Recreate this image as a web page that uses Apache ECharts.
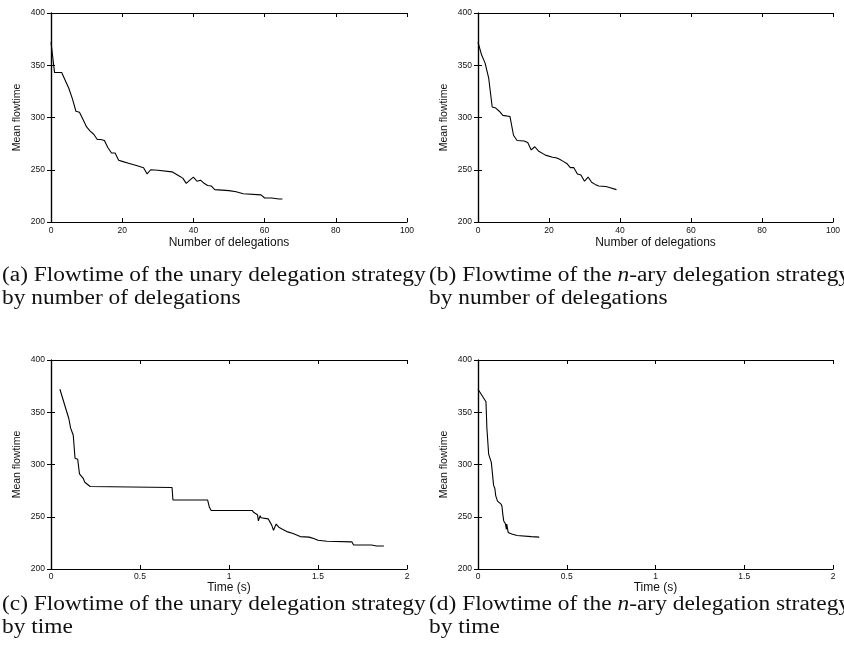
<!DOCTYPE html>
<html>
<head>
<meta charset="utf-8">
<script src="https://cdn.jsdelivr.net/npm/echarts@6/dist/echarts.min.js"></script>
<style>
html,body{margin:0;padding:0;background:#fff;}
#chart{width:844px;height:667px;}
</style>
</head>
<body>
<div id="chart"></div>
<script>
// ---- data ----
const unaryDelegX = [0,1,3,5,6,7,8,9,10,11,12,13,14,15,16,17,18,19,20,22,24,26,27,28,30,34,36,37,38,39,40,41,42,43,44,45,46,50,52,54,59,60,62,64,65];
const unaryDelegY = [372,343,343,328,318,306,305,298,291,287,284,279,279,278,271,266,266,259,258,256,254,252,246,250,249.5,248,244,242,237,240,243,239,240,237,235,234.5,231,230,229,227,226,223,223,222,222];

const naryDelegX = [0,1,2,3,4,5,6,7,9,10,11,13,14,15,16,17,19,21,22,23,24,25,26,27,28,29,30,31,32,33,34,36,37,39];
const naryDelegY = [372,360,352,338,310,309,306,302,301,283,278,277.5,276,269,272,268,264,262,261.5,260,258,256,252,252,246,245,239,243,238,236,234.5,234,233,231];

const unaryTimeX = [0.05,0.1,0.105,0.11,0.125,0.135,0.15,0.16,0.18,0.19,0.22,0.68,0.685,0.88,0.89,0.9,1.13,1.14,1.16,1.165,1.175,1.18,1.22,1.24,1.25,1.265,1.28,1.3,1.33,1.36,1.4,1.45,1.48,1.5,1.55,1.69,1.7,1.8,1.83,1.87];
const unaryTimeY = [372,344,343,335,328,306,305,291,287,283,279,278,266,266,259,256,256,254,252,246,251,249,248,242,237,243,240,238,235.5,234,231,230.5,229,227.5,226.5,226,223,223,222,222];

const naryTimeX = [0,0.045,0.05,0.06,0.065,0.075,0.083,0.088,0.095,0.1,0.105,0.11,0.13,0.135,0.14,0.145,0.155,0.16,0.162,0.17,0.19,0.22,0.3,0.345];
const naryTimeY = [372,360,335,310,309,302,301,280,277,270,271,265,262,260,252,246,243,238,243,235,233.5,232,231,230.5];

// tick ranges
const yTicks = [200, 250, 300, 350, 400];
const delegTicks = [0, 20, 40, 60, 80, 100];
const timeTicks = [0, 0.5, 1, 1.5, 2];

// texts
const yName = 'Mean flowtime';
const delegName = 'Number of delegations';
const timeName = 'Time (s)';
const captions = [
  ['(a) Flowtime of the unary delegation strategy', 'by number of delegations'],
  ['(b) Flowtime of the {i|n}-ary delegation strategy', 'by number of delegations'],
  ['(c) Flowtime of the unary delegation strategy', 'by time'],
  ['(d) Flowtime of the {i|n}-ary delegation strategy', 'by time']
];

// ---- layout ----
const grids = [
  {left: 51, top: 13, width: 356, height: 209},
  {left: 478, top: 13, width: 355, height: 209},
  {left: 51, top: 360, width: 356, height: 209},
  {left: 478, top: 360, width: 355, height: 209}
];
const panels = [
  {xs: unaryDelegX, ys: unaryDelegY, ticks: delegTicks, name: delegName, labelMargin: 4, nameGap: 15},
  {xs: naryDelegX, ys: naryDelegY, ticks: delegTicks, name: delegName, labelMargin: 4, nameGap: 15},
  {xs: unaryTimeX, ys: unaryTimeY, ticks: timeTicks, name: timeName, labelMargin: 3, nameGap: 13},
  {xs: naryTimeX, ys: naryTimeY, ticks: timeTicks, name: timeName, labelMargin: 3, nameGap: 13}
];

const FONT = 'Liberation Sans, Arial, Helvetica, sans-serif';
const axisLine = {show: true, lineStyle: {color: '#000', width: 1.2}};
const axisTick = {show: true, inside: true, length: 4, lineStyle: {color: '#000', width: 1}};
const tickLabel = {color: '#111', fontFamily: FONT, fontSize: 8.5};

const xAxes = [], yAxes = [], series = [];
panels.forEach((p, i) => {
  const xmin = p.ticks[0], xmax = p.ticks[p.ticks.length - 1], xint = p.ticks[1] - p.ticks[0];
  const ymin = yTicks[0], ymax = yTicks[yTicks.length - 1], yint = yTicks[1] - yTicks[0];
  xAxes.push({
    type: 'value', gridIndex: i, position: 'bottom', min: xmin, max: xmax, interval: xint,
    axisLine, axisTick, splitLine: {show: false},
    axisLabel: Object.assign({margin: p.labelMargin}, tickLabel),
    name: p.name, nameLocation: 'middle', nameGap: p.nameGap,
    nameTextStyle: {color: '#111', fontFamily: FONT, fontSize: 12}
  });
  xAxes.push({
    type: 'value', gridIndex: i, position: 'top', min: xmin, max: xmax, interval: xint,
    axisLine, axisTick, splitLine: {show: false}, axisLabel: {show: false}
  });
  yAxes.push({
    type: 'value', gridIndex: i, position: 'left', min: ymin, max: ymax, interval: yint,
    axisLine, axisTick, splitLine: {show: false},
    axisLabel: Object.assign({margin: 6}, tickLabel),
    name: yName, nameLocation: 'middle', nameGap: 28, nameRotate: 90,
    nameTextStyle: {color: '#111', fontFamily: FONT, fontSize: 10.5}
  });
  yAxes.push({
    type: 'value', gridIndex: i, position: 'right', min: ymin, max: ymax, interval: yint,
    axisLine, axisTick, splitLine: {show: false}, axisLabel: {show: false}
  });
  series.push({
    type: 'line', xAxisIndex: 2 * i, yAxisIndex: 2 * i,
    data: p.xs.map((x, k) => [x, p.ys[k]]),
    showSymbol: false, symbol: 'none', smooth: false,
    lineStyle: {color: '#000', width: 1.1}, z: 1
  });
});

// captions
const capPos = [
  {x: 2, y: 276}, {x: 429, y: 276},
  {x: 2, y: 605}, {x: 429, y: 605}
];
const SERIF = 'Liberation Serif, Times New Roman, serif';
const graphics = [];
captions.forEach((c, i) => {
  c.forEach((line, j) => {
    graphics.push({
      type: 'text', x: capPos[i].x, y: capPos[i].y + j * 23, scaleX: 1.17,
      style: {
        text: line, fill: '#111', fontFamily: SERIF, fontSize: 20,
        align: 'left', verticalAlign: 'middle',
        rich: {i: {fontStyle: 'italic', fontFamily: SERIF, fontSize: 20, fill: '#111'}}
      }
    });
  });
});

const chart = echarts.init(document.getElementById('chart'), null, {renderer: 'canvas'});
chart.setOption({
  animation: false,
  backgroundColor: '#fff',
  grid: grids,
  xAxis: xAxes,
  yAxis: yAxes,
  series: series,
  graphic: graphics
});
</script>
</body>
</html>
